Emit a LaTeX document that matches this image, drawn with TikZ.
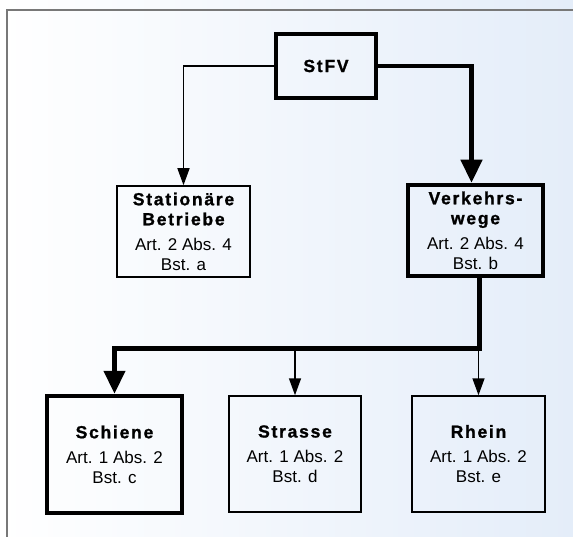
\documentclass[tikz,border=0pt]{standalone}
\usepackage{fontspec}
\setmainfont{Liberation Sans}
\newfontfamily\titlefont[LetterSpace=10,FakeBold=1.2]{Liberation Sans Bold}
\usetikzlibrary{arrows.meta}
\usetikzlibrary{positioning}
\definecolor{bgblue}{RGB}{228,237,249}
\definecolor{framegray}{RGB}{120,120,120}
\newcommand{\boxtitle}[1]{{\titlefont\fontsize{17.5}{20}\selectfont #1}}
\tikzset{
    unit/.style={
           rectangle,
           draw=black, line width=1.5pt,
           minimum width=133pt,
           minimum height=91pt,
           inner sep=0pt,
           align=center,
           font=\fontsize{17}{20}\selectfont,
           },
    mainunit/.style={
           unit,
           line width=4.5pt,
           },
    thinarrow/.style={
           line width=1.5pt,
           -{Triangle[width=12pt,length=17pt]},
           },
    thickarrow/.style={
           line width=4.5pt,
           -{Triangle[width=21pt,length=23pt]},
           },
}

\begin{document}
\begin{tikzpicture}[x=1pt,y=-1pt]

 % background and frame
 \shade[left color=white, right color=bgblue] (0,0) rectangle (573,537);
 \useasboundingbox (0,0) rectangle (573,537);
 \draw[framegray, line width=2pt] (7,537) -- (7,10) -- (573,10);

 % top node
 \node[mainunit,
 minimum width=100pt,
 minimum height=64pt] (STFV) at (326,66)
 {\boxtitle{StFV}};

 % second row
 \node[unit] (STAT) at (183.5,231.5)
 {\boxtitle{Stationäre}\\
  \boxtitle{Betriebe}\\[5pt]
  Art. 2 Abs. 4\\
  Bst. a};

 \node[mainunit,
 minimum width=135pt] (VERK) at (475.5,230.5)
 {\boxtitle{Verkehrs-}\\
  \boxtitle{wege}\\[5pt]
  Art. 2 Abs. 4\\
  Bst. b};

 % third row
 \node[mainunit,
 minimum width=135pt,
 minimum height=117pt] (SCHIENE) at (114.5,454.5)
 {\boxtitle{Schiene}\\[5pt]
  Art. 1 Abs. 2\\
  Bst. c};

 \node[unit,
 minimum width=132pt,
 minimum height=116pt] (STRASSE) at (295,454)
 {\boxtitle{Strasse}\\[5pt]
  Art. 1 Abs. 2\\
  Bst. d};

 \node[unit,
 minimum height=116pt] (RHEIN) at (478.5,454)
 {\boxtitle{Rhein}\\[5pt]
  Art. 1 Abs. 2\\
  Bst. e};

 % branching point below Verkehrswege
 \coordinate[below=70pt of {[xshift=4pt]VERK.south}] (SPLIT);

 % draw the paths
 \draw[thinarrow]  (STFV.west) -| (STAT.north);
 \draw[thickarrow] (STFV.east) -| ([xshift=-4pt]VERK.north);
 \draw[thickarrow] ([xshift=4pt]VERK.south) -- (SPLIT) -| (SCHIENE.north);
 \draw[thinarrow]  (SPLIT -| STRASSE.north) -- (STRASSE.north);
 \draw[thinarrow]  (SPLIT -| RHEIN.north) -- (RHEIN.north);
\end{tikzpicture}
\end{document}
